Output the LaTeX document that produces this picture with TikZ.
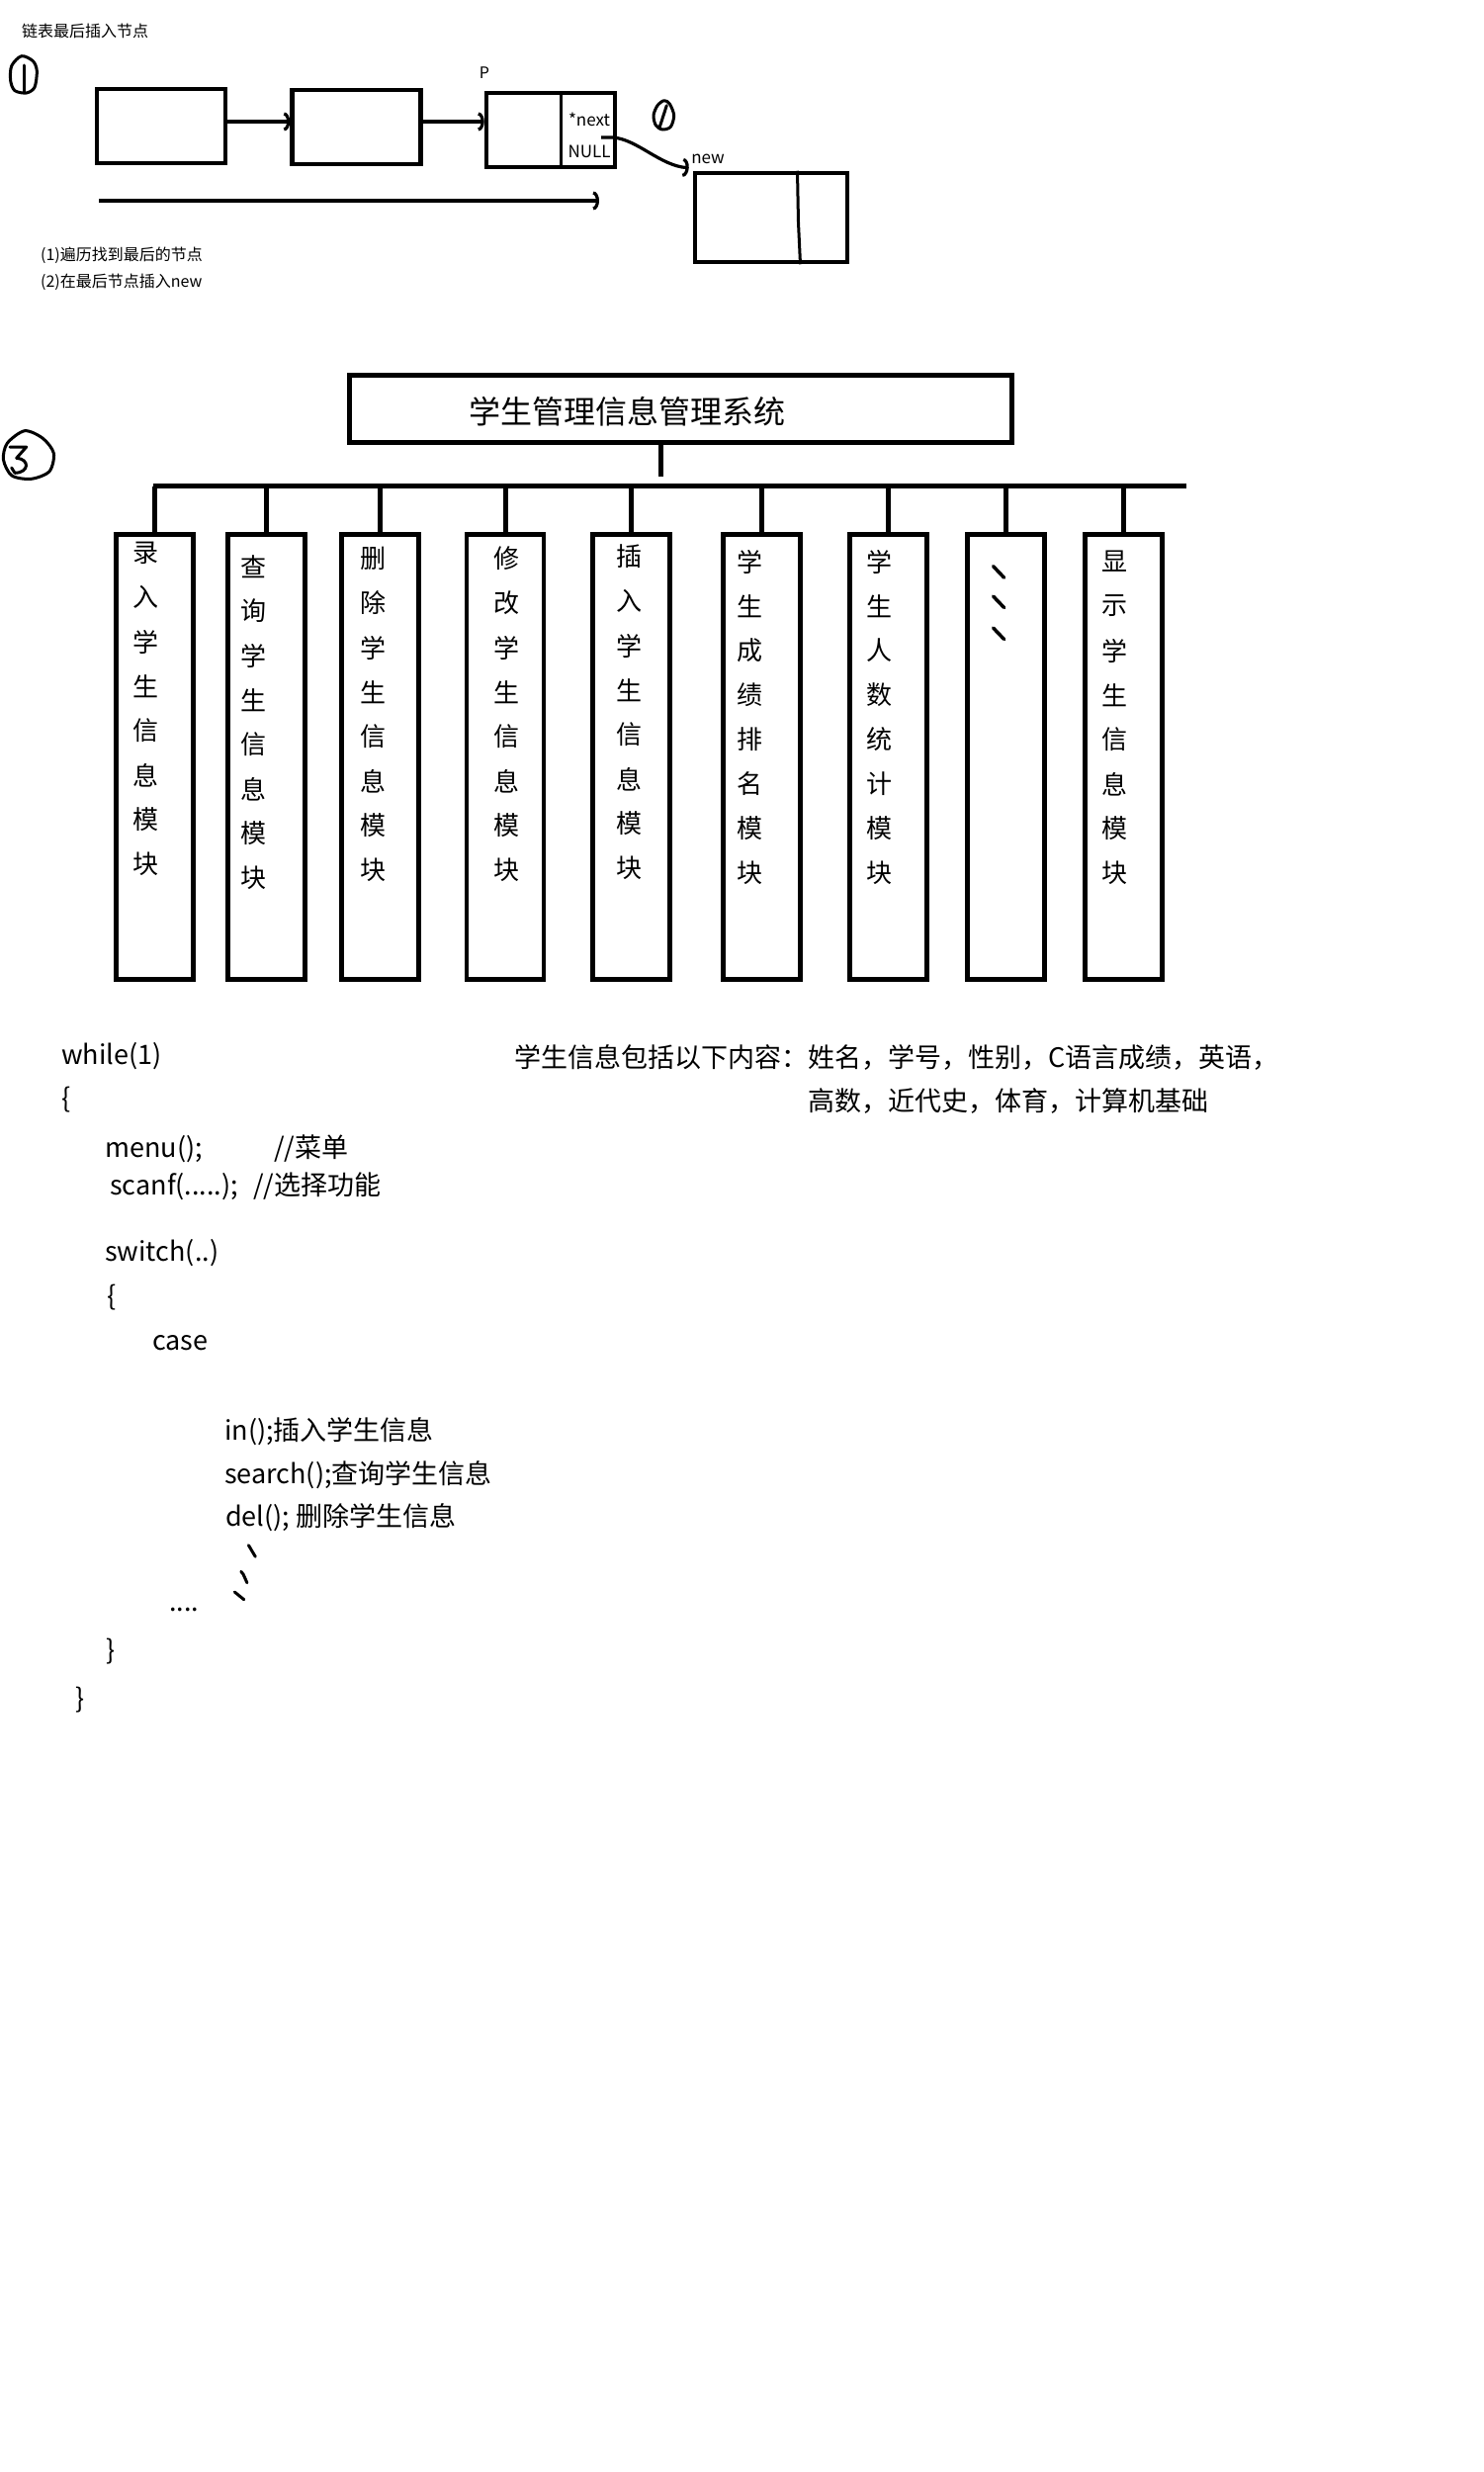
\documentclass[tikz,border=0pt]{standalone}
\usepackage{fontspec}
\setmainfont{Noto Sans CJK SC}
\usetikzlibrary{arrows.meta,positioning,calc}

\begin{document}
\begin{tikzpicture}[x=1pt,y=-1pt,>={Arc Barb[length=6pt,width=19pt]},
  lbox/.style={draw,line width=4.5pt,inner sep=0pt,minimum width=130pt,minimum height=75pt},
  link/.style={->,line width=3.2pt},
  hand/.style={line width=3pt,line cap=round,line join=round},
  bar/.style={line width=5pt},
  modbox/.style={draw,line width=4.5pt,inner sep=0pt,minimum width=78pt,minimum height=450pt},
  lbl/.style={inner sep=0pt,font=\fontsize{16}{16}\selectfont},
  modtxt/.style={inner sep=0pt,font=\fontsize{26}{26}\selectfont},
  code/.style={anchor=base west,inner sep=0pt,font=\fontsize{27}{27}\selectfont}]
  \useasboundingbox[fill=white] (0,0) rectangle (1500,2500);

  % linked list
  \node[lbl,anchor=west] (ttl) at (22,31) {链表最后插入节点};
  \draw[hand] plot[smooth cycle] coordinates {(21.7,56.7) (33.3,61.7) (37.3,71.7) (35,88.3) (26.7,94) (15,91.7) (10.7,81.7) (11.7,66.7)};
  \draw[hand] (24,66) -- (24,93);
  \node[lbox] (n1) at (163,127.5) {};
  \node[lbox] (n2) at (360.5,128.5) {};
  \node[lbox] (p) at (557,131.5) {};
  \node[lbox,minimum width=154pt,minimum height=90pt] (new) at (780,220) {};
  \draw[line width=3pt] (567,0 |- p.north) -- (567,0 |- p.south);
  \draw[line width=3pt] (806.5,0 |- new.north) -- (807.5,225) -- (809.5,0 |- new.south);
  \node[lbl] (plbl) at (490,74) {P};
  \node[lbl,font=\fontsize{17}{17}\selectfont] (nexttxt) at (596,121) {*next};
  \node[lbl,font=\fontsize{17}{17}\selectfont] (nulltxt) at (596,153) {NULL};
  \node[lbl,font=\fontsize{17}{17}\selectfont] (newlbl) at (716,161) {new};
  \coordinate (a1) at ([yshift=4.5pt]n1.east);
  \coordinate (a2) at ([yshift=5.5pt]n2.east);
  \draw[link] (a1) -- (a1 -| n2.west);
  \draw[link] (a2) -- (a2 -| p.west);
  \coordinate (travA) at (100,203);
  \coordinate (travB) at (606,203);
  \draw[link] (travA) -- (travB);
  \coordinate (nxt) at (608,139);
  \draw[link] (nxt) -- ++(12,0) .. controls (645,141) and (668,168) .. ([xshift=-4pt,yshift=3pt]new.north west);
  \draw[hand] plot[smooth cycle] coordinates {(671.7,101.7) (677.3,105) (681.7,116.7) (678.3,128.3) (670,131) (663.3,126.7) (661,116.7) (665,106.7)};
  \draw[hand] (674.3,106.7) -- (667.3,128.3);
  \node[lbl,anchor=west] (st1) at (41,258) {(1)遍历找到最后的节点};
  \node[lbl,anchor=west] (st2) at (41,285) {(2)在最后节点插入new};

  % module tree
  \draw[hand] plot[smooth cycle] coordinates {(25,435.7) (43.3,443.3) (54.3,458.3) (50,476.7) (31.7,484.3) (12,481) (3.5,465) (7.3,448.3)};
  \draw[hand] (10,452) -- (26.7,452) -- (16.7,463.3) .. controls (30,464) and (30,478) .. (15,478.3) -- (11.7,473);
  \node[draw,line width=5pt,inner sep=0pt,minimum width=670pt,minimum height=68pt] (sys) at (688.5,413.5) {};
  \node[inner sep=0pt,font=\fontsize{32}{32}\selectfont] (systxt) at (634,416) {学生管理信息管理系统};
  \coordinate (hub) at (668,482);
  \coordinate (busL) at (155,491.5);
  \coordinate (busR) at (1200,491.5);
  \draw[bar] (sys.south -| hub) -- (hub);
  \draw[bar] (busL) -- (busR);
  \foreach \cx [count=\k] in {156.5,269.5,384.5,511,638.5,770.5,898.5,1017.5,1136.5}{
    \node[modbox] (m\k) at (\cx,765.5) {};
    \draw[bar] (m\k.north |- busL) -- (m\k.north);
  }
  \foreach \k/\tx/\ty/\chars in {1/147/559/{录,入,学,生,信,息,模,块},2/256/573/{查,询,学,生,信,息,模,块},
      3/377/565/{删,除,学,生,信,息,模,块},4/512/565/{修,改,学,生,信,息,模,块},
      5/636/563/{插,入,学,生,信,息,模,块},6/758/568/{学,生,成,绩,排,名,模,块},
      7/889/568/{学,生,人,数,统,计,模,块},9/1127/568/{显,示,学,生,信,息,模,块}}{
    \foreach \c [count=\i from 0] in \chars
      \node[modtxt] (t\k-\i) at (\tx,{\ty+45*\i}) {\c};
  }
  \foreach \sy in {572.7,603,635}
    \draw[hand,line width=3.5pt] (1004.6,\sy) -- ++(11,11.5);

  % code sketch
  \node[code] (wh) at (62,1076) {while(1)};
  \node[code] (ob1) at (62,1120) {\{};
  \node[code] (mn) at (106,1170) {menu();};
  \node[code] (mncm) at (277,1170) {//菜单};
  \node[code] (sc) at (111,1208) {scanf(.....);};
  \node[code] (sccm) at (256,1208) {//选择功能};
  \node[code] (sw) at (106,1275) {switch(..)};
  \node[code] (ob2) at (108,1320) {\{};
  \node[code] (cs) at (154,1365) {case};
  \node[code] (fin) at (227,1456) {in();插入学生信息};
  \node[code] (fse) at (227,1500) {search();查询学生信息};
  \node[code] (fdl) at (228,1543) {del(); 删除学生信息};
  \draw[hand] (251.4,1562.7) -- (258.3,1574.3);
  \draw[hand] (243.8,1589.3) -- (246,1592) -- (249.9,1600.7);
  \draw[hand] (237.3,1610) -- (246.8,1617.7);
  \node[code] (dots) at (171,1629) {....};
  \node[code] (cb2) at (107,1678) {\}};
  \node[code] (cb1) at (76,1727) {\}};
  \node[code] (inf1) at (520,1079.5) {学生信息包括以下内容：姓名，学号，性别，C语言成绩，英语，};
  \node[code] (inf2) at (817,1123) {高数，近代史，体育，计算机基础};
\end{tikzpicture}
\end{document}
